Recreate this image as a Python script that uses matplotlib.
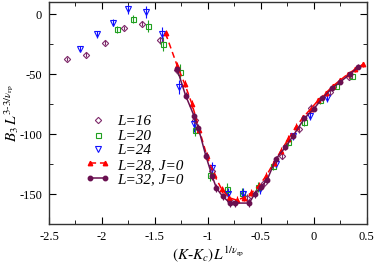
import matplotlib
matplotlib.use("Agg")
import matplotlib.pyplot as plt
from matplotlib.lines import Line2D
from matplotlib.legend_handler import HandlerLine2D
from matplotlib.ticker import MultipleLocator, FuncFormatter

plt.rcParams['font.family'] = ['Liberation Serif', 'DejaVu Serif']
plt.rcParams['mathtext.fontset'] = 'stix'

# L=16, open diamonds
x16 = [-2.33, -2.15, -1.97, -1.79, -1.62, -1.45, -1.29, -1.12, -0.96, -0.79, -0.63, -0.47, -0.30, -0.14, -0.03, 0.15, 0.33]
y16 = [-37.5, -34, -24, -11.5, -8, -22, -47, -88, -131, -156, -153, -141, -118, -96, -78, -65, -52.5]
e16 = [2, 2, 2, 2, 2, 3, 3, 3, 3, 3, 3, 3, 3, 3, 3, 3, 2]

# L=20, open squares
x20 = [-1.86, -1.71, -1.57, -1.42, -1.26, -1.12, -0.98, -0.82, -0.68, -0.53, -0.39, -0.24, -0.09, 0.06, 0.21, 0.36]
y20 = [-12.5, -4, -10, -25, -48, -97, -134, -146, -149, -144, -127, -107, -90, -72, -60, -52]
e20 = [3, 3, 5, 6, 6, 5, 5, 5, 4, 4, 3, 3, 3, 3, 2, 2]

# L=24, open down triangles
x24 = [-2.21, -2.05, -1.90, -1.75, -1.58, -1.43, -1.27, -1.13, -0.96, -0.81, -0.67, -0.51, -0.36, -0.20, -0.04, 0.12]
y24 = [-29, -17, -7, 4, 1.5, -17, -61, -92, -128, -150, -150, -146, -125, -102, -85, -70]
e24 = [2, 3, 3, 4, 5, 6, 6, 6, 5, 5, 5, 4, 4, 3, 3, 3]

# L=28, J=0, red dashed
x28 = [-1.40, -1.29, -1.22, -1.15, -1.08, -1.01, -0.94, -0.87, -0.80, -0.73, -0.66, -0.59, -0.52, -0.45,
       -0.38, -0.31, -0.24, -0.17, -0.10, -0.03, 0.04, 0.11, 0.18, 0.25, 0.32, 0.39, 0.46]
y28 = [-16, -43, -58, -75, -97, -118, -134, -146, -153, -155, -153, -149, -143, -135,
       -124, -114, -104, -94, -86, -79, -72, -66, -60, -55, -50, -46, -42]
e28 = [3, 3, 3, 3, 3, 3, 3, 3, 3, 3, 3, 3, 3, 3, 3, 3, 3, 3, 2, 2, 2, 2, 2, 2, 2, 2, 2]

# L=32, J=0, purple solid
x32 = [-1.29, -1.21, -1.13, -1.09, -1.02, -0.96, -0.92, -0.86, -0.79, -0.74, -0.61, -0.56, -0.50,
       -0.44, -0.36, -0.27, -0.20, -0.09, 0.00, 0.08, 0.17, 0.25, 0.34, 0.42]
y32 = [-46, -68, -85, -95, -118, -135, -145, -152, -157.5, -157.5, -157.5, -150, -144,
       -138, -121, -111, -102, -87, -79, -70, -62, -56.5, -50, -44]
e32 = [3, 3, 3, 3, 3, 3, 3, 3, 3, 3, 3, 3, 3, 3, 3, 2, 2, 2, 2, 2, 2, 2, 2, 2]

c16 = '#7f2a6a'
c20 = '#20a020'
c24 = '#1010ff'
c28 = '#ff0000'
c32 = '#6a1050'

fig = plt.figure(figsize=(3.77, 2.63), dpi=100)
ax = fig.add_axes([0.130, 0.148, 0.843, 0.844])

ax.errorbar(x16, y16, yerr=e16, fmt='D', ms=3.2, mfc='none', mec=c16, mew=0.8, ecolor=c16, elinewidth=0.8, capsize=0)
ax.errorbar(x20, y20, yerr=e20, fmt='s', ms=3.6, mfc='none', mec=c20, mew=0.8, ecolor=c20, elinewidth=0.8, capsize=0)
ax.errorbar(x24, y24, yerr=e24, fmt='v', ms=4.2, mfc='none', mec=c24, mew=0.8, ecolor=c24, elinewidth=0.8, capsize=0)
ax.errorbar(x28, y28, yerr=e28, fmt='^', ls='--', lw=1.1, ms=3.2, color=c28, ecolor=c28, elinewidth=0.8, capsize=0, dashes=(4, 2.5))
ax.errorbar(x32, y32, yerr=e32, fmt='o', ls='-', lw=1.1, ms=3.2, color=c32, ecolor=c32, elinewidth=0.8, capsize=0)

ax.set_xlim(-2.5, 0.5)
ax.set_ylim(-175, 10)
ax.xaxis.set_major_locator(MultipleLocator(0.5))
ax.xaxis.set_minor_locator(MultipleLocator(0.25))
ax.yaxis.set_major_locator(MultipleLocator(50))
ax.yaxis.set_minor_locator(MultipleLocator(25))
ax.tick_params(which='both', direction='in', top=True, right=True, labelsize=9, pad=5)
ax.tick_params(which='major', length=5)
ax.tick_params(which='minor', length=3)
fmt = lambda v, p: ('%g' % v)
ax.xaxis.set_major_formatter(FuncFormatter(fmt))
ax.yaxis.set_major_formatter(FuncFormatter(fmt))
for s in ax.spines.values():
    s.set_linewidth(1.0)
    s.set_color('#333333')

ax.set_xlabel(r'$(K$-$K_c)L^{1/\nu_{\rm rp}}$', fontsize=11, labelpad=1)
ax.set_ylabel(r'$B_3\,L^{3\text{-}3/\nu_{\rm rp}}$', fontsize=11, labelpad=-1)

handles = [
    Line2D([], [], ls='none', marker='D', ms=3.2, mfc='none', mec=c16, mew=0.8),
    Line2D([], [], ls='none', marker='s', ms=3.6, mfc='none', mec=c20, mew=0.8),
    Line2D([], [], ls='none', marker='v', ms=4.2, mfc='none', mec=c24, mew=0.8),
    Line2D([], [], ls='--', lw=1.1, marker='^', ms=3.2, color=c28, dashes=(4, 2.5)),
    Line2D([], [], ls='-', lw=1.1, marker='o', ms=3.2, color=c32),
]
labels = ['L=16', 'L=20', 'L=24', 'L=28, J=0', 'L=32, J=0']
hmap = {h: HandlerLine2D(numpoints=1) for h in handles[:3]}
hmap.update({h: HandlerLine2D(numpoints=2) for h in handles[3:]})
leg = ax.legend(handles, labels, handler_map=hmap, loc='upper left', bbox_to_anchor=(0.095, 0.52),
                frameon=False, fontsize=11, handlelength=1.6, handletextpad=0.5, labelspacing=0.05,
                borderaxespad=0)
for t in leg.get_texts():
    t.set_fontstyle('italic')

fig.savefig('out.png', dpi=100)
